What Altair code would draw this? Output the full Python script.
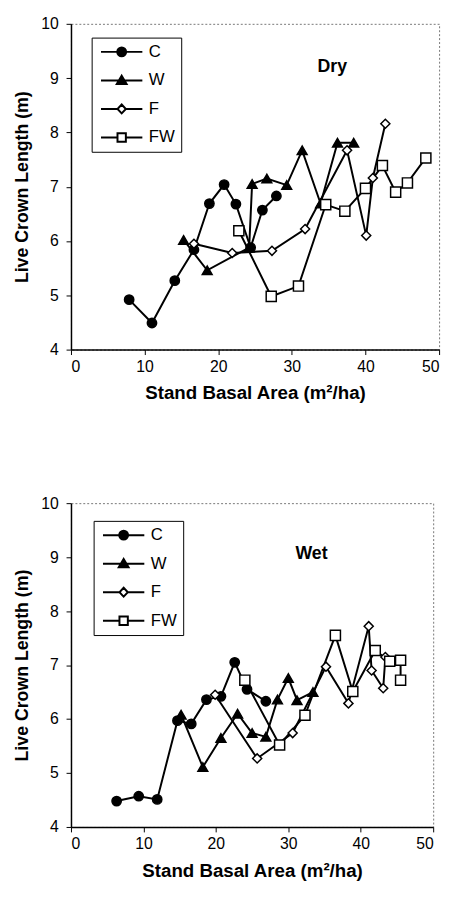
import altair as alt
import pandas as pd

SERIES = ["C", "W", "F", "FW"]
X_TICKS = [0, 10, 20, 30, 40, 50]
Y_TICKS = [4, 5, 6, 7, 8, 9, 10]

# ---- Dry panel ----
dry_C_x = [7.9, 11.0, 14.1, 16.7, 18.8, 20.8, 22.4, 24.4, 26.0, 27.9]
dry_C_y = [4.92, 4.49, 5.27, 5.84, 6.69, 7.04, 6.68, 5.88, 6.57, 6.83]
dry_W_x = [15.3, 18.5, 24.2, 24.6, 26.6, 29.3, 31.4, 33.9, 36.2, 38.4]
dry_W_y = [6.02, 5.46, 5.88, 7.05, 7.15, 7.03, 7.67, 6.69, 7.81, 7.81]
dry_F_x = [16.7, 21.9, 27.3, 31.8, 37.5, 40.1, 41.0, 42.7]
dry_F_y = [5.95, 5.78, 5.82, 6.22, 7.67, 6.10, 7.16, 8.16]
dry_FW_x = [22.8, 27.2, 30.9, 34.6, 37.2, 40.0, 42.3, 44.1, 45.7, 48.2]
dry_FW_y = [6.19, 4.98, 5.17, 6.67, 6.55, 6.97, 7.39, 6.90, 7.07, 7.53]

# ---- Wet panel ----
wet_C_x = [6.3, 9.35, 11.9, 14.7, 16.6, 18.7, 20.7, 22.6, 24.3, 26.9]
wet_C_y = [4.48, 4.57, 4.51, 5.97, 5.91, 6.36, 6.42, 7.05, 6.55, 6.33]
wet_W_x = [15.2, 18.2, 20.7, 23.0, 25.0, 26.9, 28.5, 30.0, 31.2, 33.4]
wet_W_y = [6.08, 5.11, 5.65, 6.10, 5.74, 5.67, 6.36, 6.76, 6.35, 6.50]
wet_F_x = [19.9, 25.7, 30.6, 35.2, 38.3, 41.1, 41.5, 43.1, 43.4]
wet_F_y = [6.45, 5.27, 5.74, 6.97, 6.29, 7.72, 6.90, 6.57, 7.15]
wet_FW_x = [24.0, 28.8, 32.3, 36.5, 38.9, 42.0, 44.0, 45.5, 45.5]
wet_FW_y = [6.72, 5.52, 6.07, 7.55, 6.51, 7.27, 7.07, 7.09, 6.72]

panel_labels = ["Dry", "Wet"]
panel_label_x = [35.5, 33.2]
panel_label_y = [9.21, 9.05]

FONT = "Liberation Sans"
MARKERS = ["circle", "triangle-up", "diamond", "square"]
FILLS = ["black", "black", "white", "white"]
MARKER_SIZES = [90, 100, 85, 105]
LEGEND_SYMBOLS = [
    "M-4.2,0H-0.9M0.9,0H4.2M-0.9,0A0.9,0.9,0,1,0,0.9,0A0.9,0.9,0,1,0,-0.9,0Z",
    "M-4.2,0H4.2M0,-0.95L1.0,0.75L-1.0,0.75Z",
    "M-4.2,0H-0.85M0.85,0H4.2M0,-0.9L0.85,0L0,0.9L-0.85,0Z",
    "M-4.2,0H-0.85M0.85,0H4.2M-0.85,-0.85H0.85V0.85H-0.85Z",
]


def build_df(xs_list, ys_list):
    rows = []
    for s, xs, ys in zip(SERIES, xs_list, ys_list):
        for i, (x, y) in enumerate(zip(xs, ys)):
            rows.append({"series": s, "x": x, "y": y, "idx": i})
    return pd.DataFrame(rows)


dry_df = build_df([dry_C_x, dry_W_x, dry_F_x, dry_FW_x],
                  [dry_C_y, dry_W_y, dry_F_y, dry_FW_y])
wet_df = build_df([wet_C_x, wet_W_x, wet_F_x, wet_FW_x],
                  [wet_C_y, wet_W_y, wet_F_y, wet_FW_y])


def panel(df, k, width, height, lx, ly):
    xenc = alt.X("x:Q", scale=alt.Scale(domain=[0, 50], nice=False),
                 axis=alt.Axis(values=X_TICKS, format="d",
                               title="Stand Basal Area (m²/ha)"))
    yenc = alt.Y("y:Q", scale=alt.Scale(domain=[4, 10], nice=False, zero=False),
                 axis=alt.Axis(values=Y_TICKS, format="d",
                               title="Live Crown Length (m)"))
    base = alt.Chart(df)
    layers = [base.mark_line(color="black", strokeWidth=2).encode(
        x=xenc, y=yenc, detail="series:N", order="idx:Q")]
    for s, shp, fc, sz in zip(SERIES, MARKERS, FILLS, MARKER_SIZES):
        layers.append(
            base.transform_filter(alt.datum.series == s).mark_point(
                shape=shp, filled=True, fill=fc, stroke="black",
                strokeWidth=1.5, size=sz, opacity=1).encode(x=xenc, y=yenc))
    leg = alt.Legend(orient="none", legendX=lx, legendY=ly, title=None,
                     strokeColor="black", fillColor="white", padding=6,
                     labelFont=FONT, labelFontSize=17, labelColor="black",
                     symbolSize=100, symbolStrokeWidth=2,
                     symbolOffset=16, labelOffset=19, rowPadding=11)
    layers.append(
        base.transform_filter("datum.x < -100").mark_point(
            filled=True, strokeWidth=2, size=100, opacity=1).encode(
            x=xenc, y=yenc,
            shape=alt.Shape("series:N", scale=alt.Scale(domain=SERIES, range=LEGEND_SYMBOLS), legend=leg),
            fill=alt.Fill("series:N", scale=alt.Scale(domain=SERIES, range=FILLS), legend=leg),
            stroke=alt.Stroke("series:N", scale=alt.Scale(domain=SERIES, range=["black"] * 4), legend=leg),
        ))
    lab_df = pd.DataFrame({"x": [panel_label_x[k]], "y": [panel_label_y[k]],
                           "t": [panel_labels[k]]})
    layers.append(alt.Chart(lab_df).mark_text(
        font=FONT, fontSize=18, fontWeight="bold", color="black").encode(
        x=alt.X("x:Q"), y=alt.Y("y:Q"), text="t:N"))
    return alt.layer(*layers).properties(width=width, height=height)


top = panel(dry_df, 0, 374, 331, 21, 14)
bottom = panel(wet_df, 1, 368, 329, 23, 18)

chart = alt.vconcat(top, bottom, spacing=92).resolve_scale(
    shape="independent", fill="independent", stroke="independent"
).properties(
    padding={"top": 0, "left": 5, "right": 5, "bottom": 5}
).configure_view(
    stroke="#777777", strokeDash=[2, 2], strokeWidth=1
).configure_axis(
    grid=False, domainColor="black", domainWidth=1.5, tickColor="black",
    tickSize=5, labelFont=FONT, labelFontSize=16, labelColor="black",
    titleFont=FONT, titleFontWeight="bold", titleColor="black",
).configure_axisX(titlePadding=10, labelPadding=4, titleFontSize=19).configure_axisY(
    titlePadding=9, labelPadding=8, titleFontSize=18)

chart.save("out.html", embed_options={"renderer": "svg", "actions": False})
